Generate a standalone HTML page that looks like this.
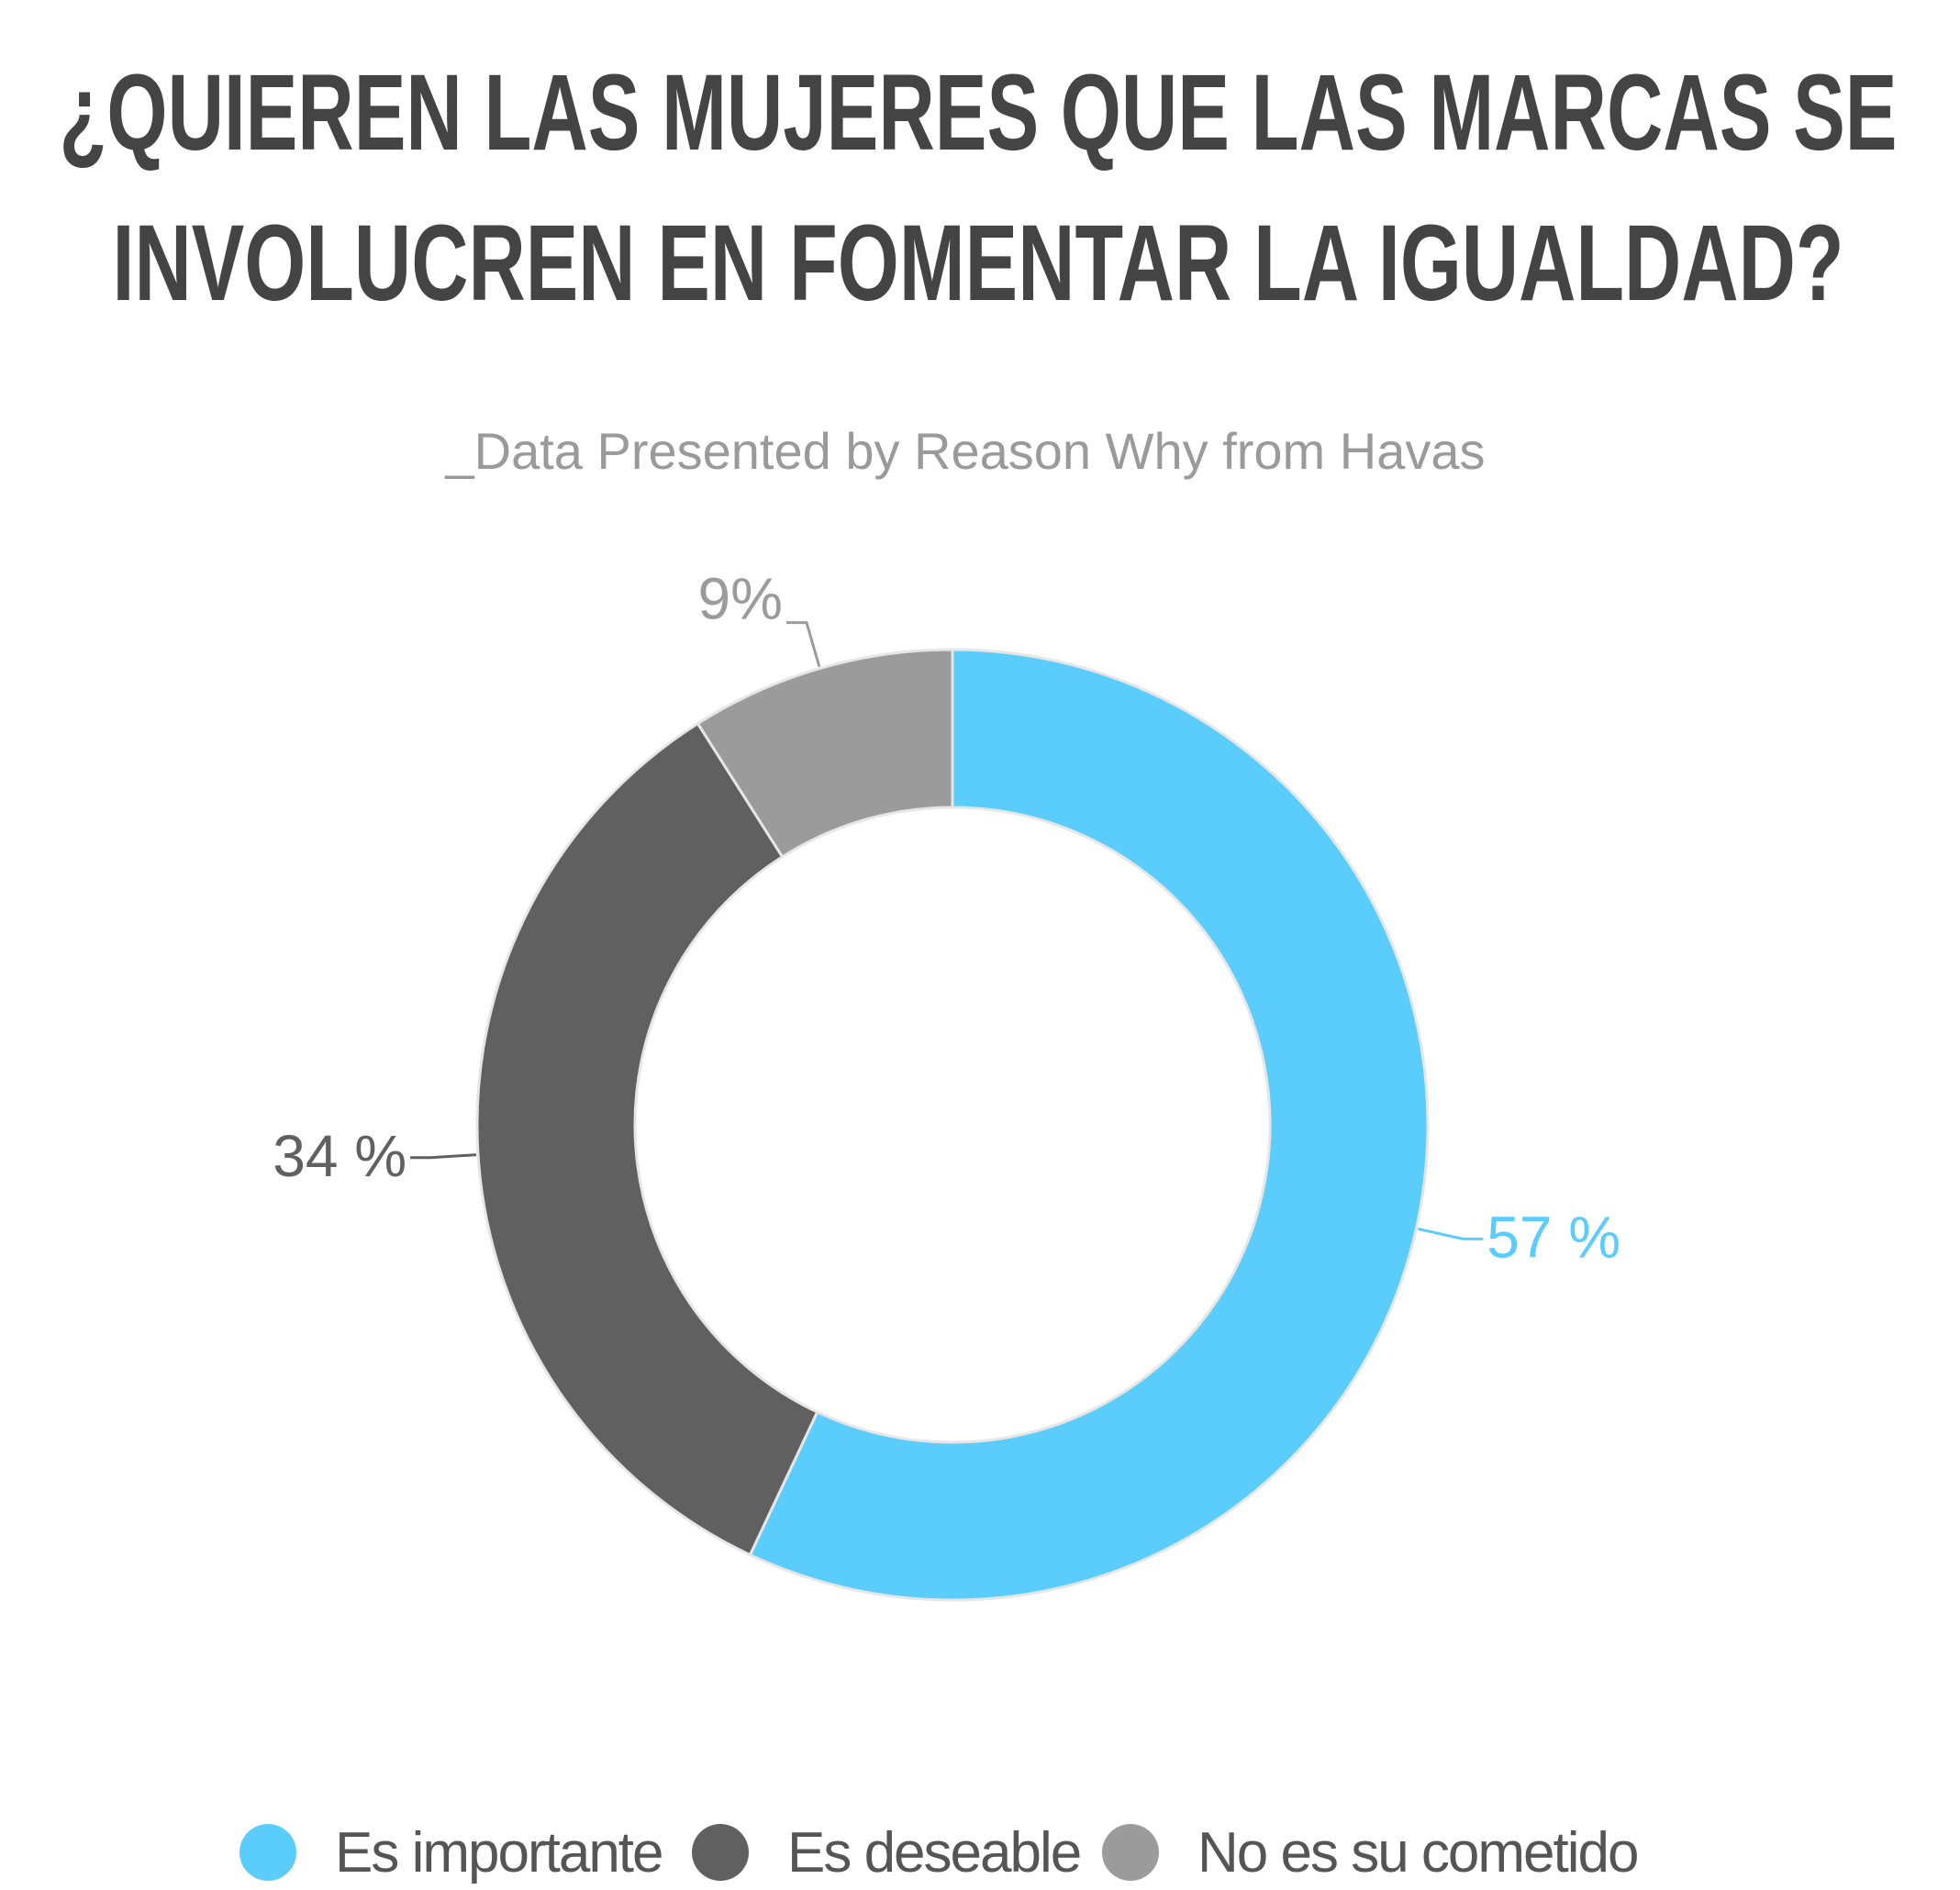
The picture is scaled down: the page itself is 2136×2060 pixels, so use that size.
<!DOCTYPE html>
<html><head><meta charset="utf-8"><style>
body{margin:0;background:#fff;width:2136px;height:2060px;overflow:hidden}
svg{display:block}
</style></head><body>
<svg width="2136" height="2060" viewBox="0 0 2136 2060" xmlns="http://www.w3.org/2000/svg">
<g font-family="Liberation Sans, sans-serif" font-weight="bold" fill="#444">
<text x="1066" y="163" font-size="118" text-anchor="middle" textLength="2003" lengthAdjust="spacingAndGlyphs">¿QUIEREN LAS MUJERES QUE LAS MARCAS SE</text>
<text x="1066" y="327" font-size="118" text-anchor="middle" textLength="1887" lengthAdjust="spacingAndGlyphs">INVOLUCREN EN FOMENTAR LA IGUALDAD?</text>
</g>
<text x="1052" y="511" font-family="Liberation Sans, sans-serif" font-size="56" fill="#9a9a9a" text-anchor="middle" textLength="1133" lengthAdjust="spacingAndGlyphs">_Data Presented by Reason Why from Havas</text>
<g id="slices"></g>
<g id="labels"></g>
<g id="legend"></g>
</svg>
<script>
const categories=["Es importante","Es deseable","No es su cometido"];
const values=[57,34,9];
const labelsText=["57 %","34 %","9%"];
const colors=["#5bcdfd","#606060","#9b9b9b"];
const labelColors=["#5bcdfd","#606060","#9b9b9b"];
const NS="http://www.w3.org/2000/svg";
const cx=1038,cy=1226,R=518,r=346;
const total=values.reduce((a,b)=>a+b,0);
function pt(a,rad){return [cx+rad*Math.sin(a),cy-rad*Math.cos(a)];}
const gS=document.getElementById('slices'),gL=document.getElementById('labels'),gG=document.getElementById('legend');
let acc=0;
values.forEach((v,i)=>{
 const a0=acc/total*2*Math.PI;acc+=v;const a1=acc/total*2*Math.PI;
 const large=(a1-a0)>Math.PI?1:0;
 const p0=pt(a0,R),p1=pt(a1,R),q1=pt(a1,r),q0=pt(a0,r);
 const p=document.createElementNS(NS,'path');
 p.setAttribute('d',`M${p0}A${R},${R} 0 ${large} 1 ${p1}L${q1}A${r},${r} 0 ${large} 0 ${q0}Z`);
 p.setAttribute('fill',colors[i]);p.setAttribute('stroke','#e6e6e6');p.setAttribute('stroke-width','3');
 
 
 gS.appendChild(p);
 const am=(a0+a1)/2;
 const s=pt(am,R+2),e=pt(am,R+52);
 const right=Math.sin(am)>=0;
 const ex=e[0]+(right?22:-22);
 const l=document.createElementNS(NS,'polyline');
 l.setAttribute('points',`${s} ${e} ${ex},${e[1]}`);
 l.setAttribute('fill','none');l.setAttribute('stroke',labelColors[i]);l.setAttribute('stroke-width','3');
 
 
 gL.appendChild(l);
 const t=document.createElementNS(NS,'text');
 t.setAttribute('x',ex+(right?4:-4));t.setAttribute('y',e[1]+(Math.cos(am)>0.5?-4:20));
 t.setAttribute('text-anchor',right?'start':'end');
 t.setAttribute('font-family','Liberation Sans, sans-serif');t.setAttribute('font-size','64');
 t.setAttribute('fill',labelColors[i]);t.textContent=labelsText[i];
 
 
 gL.appendChild(t);
});
const legX=[292,785,1232];
categories.forEach((c,i)=>{
 const ci=document.createElementNS(NS,'circle');
 ci.setAttribute('cx',legX[i]);ci.setAttribute('cy',2019);ci.setAttribute('r',31);ci.setAttribute('fill',colors[i]);
 
 
 gG.appendChild(ci);
 const t=document.createElementNS(NS,'text');
 t.setAttribute('x',legX[i]+73);t.setAttribute('y',2040);
 t.setAttribute('font-family','Liberation Sans, sans-serif');t.setAttribute('font-size','62');t.setAttribute('fill','#555');
 t.setAttribute('letter-spacing','-2');
 t.textContent=c;
 
 
 gG.appendChild(t);
});
</script>
</body></html>
